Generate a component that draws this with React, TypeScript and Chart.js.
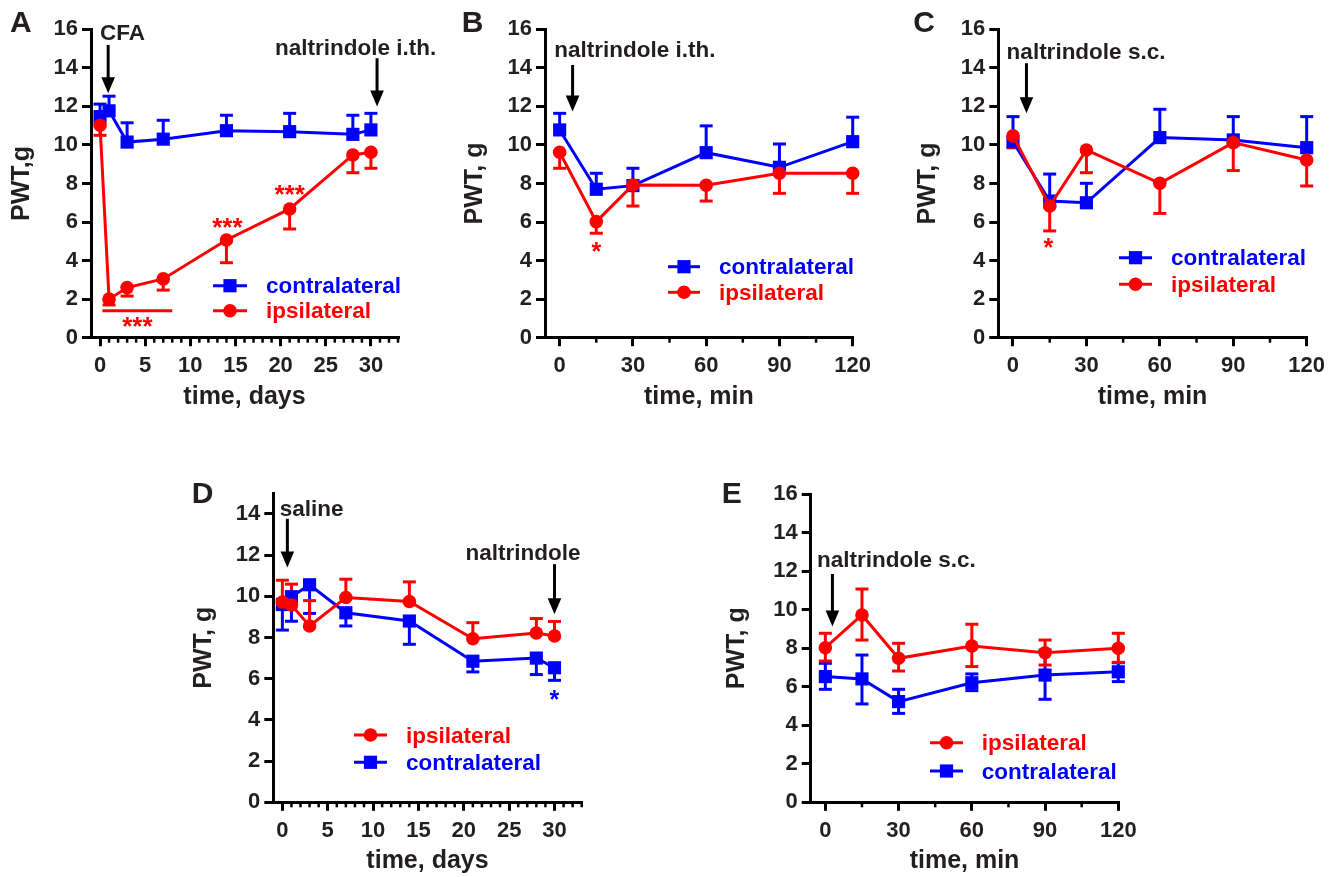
import React, { useEffect, useRef } from 'react';
import { Chart, registerables } from 'chart.js';

Chart.register(...registerables);

const FAMILY = '"Liberation Sans", Arial, Helvetica, sans-serif';
const TEXT = '#231f20';
const BLUE = '#0000ff';
const RED = '#ff0000';
const W = 1339;
const H = 877;

// ---------- data ----------
const DAYS = [0, 1, 3, 7, 14, 21, 28, 30];
const MINS = [0, 15, 30, 60, 90, 120];

const DAY_TICKS = [0, 5, 10, 15, 20, 25, 30];
const DAY_MINOR = [1, 2, 3, 4, 6, 7, 8, 9, 11, 12, 13, 14, 16, 17, 18, 19, 21, 22, 23, 24, 26, 27, 28, 29, 31, 32, 33];
const MIN_TICKS = [0, 30, 60, 90, 120];
const MIN_MINOR = [15, 45, 75, 105];
const Y16_TICKS = [0, 2, 4, 6, 8, 10, 12, 14, 16];
const Y14_TICKS = [0, 2, 4, 6, 8, 10, 12, 14];

// Panel A
const A_CONTRA = [11.47, 11.77, 10.15, 10.3, 10.74, 10.69, 10.55, 10.78];
const A_CONTRA_UP = [12.12, 12.53, 11.15, 11.28, 11.54, 11.64, 11.54, 11.64];
const A_IPSI = [11.02, 2.0, 2.6, 3.05, 5.07, 6.68, 9.48, 9.62];
const A_IPSI_LO = [10.5, 1.7, 2.16, 2.47, 3.89, 5.64, 8.56, 8.79];

// Panel B
const B_CONTRA = [10.78, 7.7, 7.89, 9.6, 8.84, 10.17];
const B_CONTRA_UP = [11.64, 8.53, 8.79, 10.99, 10.05, 11.44];
const B_IPSI = [9.62, 6.02, 7.92, 7.91, 8.53, 8.53];
const B_IPSI_LO = [8.79, 5.42, 6.83, 7.09, 7.49, 7.49];

// Panel C
const C_CONTRA = [10.17, 7.09, 7.0, 10.38, 10.26, 9.86];
const C_CONTRA_UP = [11.47, 8.49, 8.01, 11.85, 11.47, 11.47];
const C_IPSI = [10.47, 6.83, 9.74, 8.01, 10.12, 9.22];
const C_IPSI_LO = [9.85, 5.54, 8.56, 6.45, 8.67, 7.87];

// Panel D
const D_IPSI = [9.72, 9.58, 8.56, 9.94, 9.75, 7.94, 8.22, 8.07];
const D_IPSI_UP = [10.78, 10.59, 9.79, 10.83, 10.7, 8.72, 8.92, 8.78];
const D_CONTRA = [9.6, 9.98, 10.56, 9.2, 8.8, 6.85, 7.0, 6.53];
const D_CONTRA_LO = [8.36, 8.79, 9.17, 8.56, 7.67, 6.33, 6.2, 5.92];

// Panel E
const E_IPSI = [8.03, 9.73, 7.48, 8.12, 7.77, 8.0];
const E_IPSI_UP = [8.78, 11.08, 8.26, 9.25, 8.43, 8.78];
const E_IPSI_LO = [7.34, 8.43, 6.82, 7.05, 7.13, 7.27];
const E_CONTRA = [6.53, 6.41, 5.23, 6.21, 6.61, 6.78];
const E_CONTRA_UP = [7.22, 7.65, 5.87, 6.67, 7.91, 7.25];
const E_CONTRA_LO = [5.87, 5.11, 4.62, 5.8, 5.35, 6.27];

// ---------- panel descriptions ----------
type Series = {
  label: string;
  color: string;
  style: 'rect' | 'circle';
  x: number[];
  y: number[];
  upper?: number[];
  lower?: number[];
};
type Note = { text: string; x: number; y: number; color: string; size: number; mode: 'baseline' | 'center'; align: CanvasTextAlign };
type Arrow = { x: number; top: number; tip: number };
type Panel = {
  letter: string;
  letterPos: [number, number];
  area: { left: number; right: number; top: number; bottom: number };
  xMin: number; xMax: number; xTicks: number[]; xMinor: number[];
  yMin: number; yMax: number; yTicks: number[];
  xTitle: string; yTitle: string; yTitleOffset: number;
  series: Series[];
  legend: { x1: number; x2: number; textX: number; items: { idx: number; y: number }[] };
  arrows: Arrow[];
  notes: Note[];
  hlines: { x1: number; x2: number; y: number; color: string }[];
};

const contra = (x: number[], y: number[], upper?: number[], lower?: number[]): Series => ({ label: 'contralateral', color: BLUE, style: 'rect', x, y, upper, lower });
const ipsi = (x: number[], y: number[], upper?: number[], lower?: number[]): Series => ({ label: 'ipsilateral', color: RED, style: 'circle', x, y, upper, lower });

const PANELS: Panel[] = [
  {
    letter: 'A', letterPos: [10, 31.7],
    area: { left: 91, right: 398, top: 29.3, bottom: 337.7 },
    xMin: -1, xMax: 33, xTicks: DAY_TICKS, xMinor: DAY_MINOR,
    yMin: 0, yMax: 16, yTicks: Y16_TICKS,
    xTitle: 'time, days', yTitle: 'PWT,g', yTitleOffset: 61.7,
    series: [ipsi(DAYS, A_IPSI, undefined, A_IPSI_LO), contra(DAYS, A_CONTRA, A_CONTRA_UP)],
    legend: { x1: 213, x2: 247, textX: 266, items: [{ idx: 1, y: 285.7 }, { idx: 0, y: 310.7 }] },
    arrows: [{ x: 0.9, top: 15.19, tip: 12.68 }, { x: 30.68, top: 14.5, tip: 11.99 }],
    notes: [
      { text: 'CFA', x: 0, y: 15.45, color: TEXT, size: 22.5, mode: 'baseline', align: 'left' },
      { text: 'naltrindole i.th.', x: 19.37, y: 14.67, color: TEXT, size: 22.5, mode: 'baseline', align: 'left' },
      { text: '***', x: 14.1, y: 5.93, color: RED, size: 26, mode: 'center', align: 'center' },
      { text: '***', x: 21, y: 7.66, color: RED, size: 26, mode: 'center', align: 'center' },
      { text: '***', x: 4.14, y: 0.83, color: RED, size: 26, mode: 'center', align: 'center' },
    ],
    hlines: [{ x1: 0.26, x2: 8.0, y: 1.4, color: RED }],
  },
  {
    letter: 'B', letterPos: [461.7, 31.7],
    area: { left: 545, right: 852.7, top: 29.3, bottom: 337.7 },
    xMin: -6, xMax: 120, xTicks: MIN_TICKS, xMinor: MIN_MINOR,
    yMin: 0, yMax: 16, yTicks: Y16_TICKS,
    xTitle: 'time, min', yTitle: 'PWT, g', yTitleOffset: 63.3,
    series: [ipsi(MINS, B_IPSI, undefined, B_IPSI_LO), contra(MINS, B_CONTRA, B_CONTRA_UP)],
    legend: { x1: 668, x2: 700, textX: 719, items: [{ idx: 1, y: 266.7 }, { idx: 0, y: 292.3 }] },
    arrows: [{ x: 5.3, top: 14.15, tip: 11.73 }],
    notes: [
      { text: 'naltrindole i.th.', x: -2.2, y: 14.55, color: TEXT, size: 22.5, mode: 'baseline', align: 'left' },
      { text: '*', x: 15, y: 4.72, color: RED, size: 25, mode: 'center', align: 'center' },
    ],
    hlines: [],
  },
  {
    letter: 'C', letterPos: [913.3, 31.7],
    area: { left: 998.3, right: 1306.7, top: 29.3, bottom: 337.7 },
    xMin: -6, xMax: 120, xTicks: MIN_TICKS, xMinor: MIN_MINOR,
    yMin: 0, yMax: 16, yTicks: Y16_TICKS,
    xTitle: 'time, min', yTitle: 'PWT, g', yTitleOffset: 63.3,
    series: [ipsi(MINS, C_IPSI, undefined, C_IPSI_LO), contra(MINS, C_CONTRA, C_CONTRA_UP)],
    legend: { x1: 1119, x2: 1152, textX: 1171, items: [{ idx: 1, y: 257.7 }, { idx: 0, y: 284.3 }] },
    arrows: [{ x: 5.5, top: 14.24, tip: 11.64 }],
    notes: [
      { text: 'naltrindole s.c.', x: -2.6, y: 14.46, color: TEXT, size: 22.5, mode: 'baseline', align: 'left' },
      { text: '*', x: 14.5, y: 4.9, color: RED, size: 25, mode: 'center', align: 'center' },
    ],
    hlines: [],
  },
  {
    letter: 'D', letterPos: [191.7, 503.3],
    area: { left: 273.3, right: 581.7, top: 493.3, bottom: 802.3 },
    xMin: -1, xMax: 33, xTicks: DAY_TICKS, xMinor: DAY_MINOR,
    yMin: 0, yMax: 15, yTicks: Y14_TICKS,
    xTitle: 'time, days', yTitle: 'PWT, g', yTitleOffset: 62.6,
    series: [ipsi(DAYS, D_IPSI, D_IPSI_UP), contra(DAYS, D_CONTRA, undefined, D_CONTRA_LO)],
    legend: { x1: 354, x2: 387, textX: 406, items: [{ idx: 0, y: 735 }, { idx: 1, y: 762.3 }] },
    arrows: [{ x: 0.55, top: 13.76, tip: 11.4 }, { x: 30, top: 11.56, tip: 9.13 }],
    notes: [
      { text: 'saline', x: -0.3, y: 13.92, color: TEXT, size: 22.5, mode: 'baseline', align: 'left' },
      { text: 'naltrindole', x: 20.2, y: 11.77, color: TEXT, size: 22.5, mode: 'baseline', align: 'left' },
      { text: '*', x: 30, y: 5.23, color: BLUE, size: 25, mode: 'center', align: 'center' },
    ],
    hlines: [],
  },
  {
    letter: 'E', letterPos: [721.7, 503.3],
    area: { left: 810.7, right: 1118.3, top: 494.3, bottom: 802.3 },
    xMin: -6, xMax: 120, xTicks: MIN_TICKS, xMinor: MIN_MINOR,
    yMin: 0, yMax: 16, yTicks: Y16_TICKS,
    xTitle: 'time, min', yTitle: 'PWT, g', yTitleOffset: 67,
    series: [ipsi(MINS, E_IPSI, E_IPSI_UP, E_IPSI_LO), contra(MINS, E_CONTRA, E_CONTRA_UP, E_CONTRA_LO)],
    legend: { x1: 930, x2: 963, textX: 981.7, items: [{ idx: 0, y: 742.7 }, { idx: 1, y: 771 }] },
    arrows: [{ x: 2.9, top: 11.86, tip: 9.13 }],
    notes: [
      { text: 'naltrindole s.c.', x: -3.4, y: 12.24, color: TEXT, size: 22.5, mode: 'baseline', align: 'left' },
    ],
    hlines: [],
  },
];

const YW = 80; // fixed y-axis box width
const XH = 60; // fixed x-axis box height

function setFont(ctx: CanvasRenderingContext2D, size: number) {
  ctx.font = `bold ${size}px ${FAMILY}`;
}

function line(ctx: CanvasRenderingContext2D, x1: number, y1: number, x2: number, y2: number) {
  ctx.beginPath();
  ctx.moveTo(x1, y1);
  ctx.lineTo(x2, y2);
  ctx.stroke();
}

function drawMarker(ctx: CanvasRenderingContext2D, style: string, x: number, y: number, color: string) {
  ctx.fillStyle = color;
  ctx.beginPath();
  if (style === 'rect') {
    ctx.rect(x - 6.6, y - 6.6, 13.2, 13.2);
  } else {
    ctx.arc(x, y, 6.8, 0, Math.PI * 2);
  }
  ctx.fill();
}

function makePlugin(p: Panel) {
  return {
    id: 'decor' + p.letter,
    beforeDatasetsDraw(chart: any) {
      const ctx: CanvasRenderingContext2D = chart.ctx;
      const xs = chart.scales.x;
      const ys = chart.scales.y;
      ctx.save();
      ctx.lineWidth = 3;
      ctx.lineCap = 'butt';
      for (let s = p.series.length - 1; s >= 0; s--) {
        const ser = p.series[s];
        ctx.strokeStyle = ser.color;
        ser.x.forEach((xv, i) => {
          const px = xs.getPixelForValue(xv);
          const py = ys.getPixelForValue(ser.y[i]);
          [ser.upper ? ser.upper[i] : null, ser.lower ? ser.lower[i] : null].forEach((v) => {
            if (v == null) return;
            const pv = ys.getPixelForValue(v);
            line(ctx, px, py, px, pv);
            line(ctx, px - 6.5, pv, px + 6.5, pv);
          });
        });
      }
      ctx.restore();
    },
    afterDraw(chart: any) {
      const ctx: CanvasRenderingContext2D = chart.ctx;
      const xs = chart.scales.x;
      const ys = chart.scales.y;
      const ca = chart.chartArea;
      ctx.save();

      // minor ticks on x axis
      ctx.strokeStyle = '#000';
      ctx.lineWidth = 2.5;
      p.xMinor.forEach((v) => {
        const px = xs.getPixelForValue(v);
        line(ctx, px, ca.bottom, px, ca.bottom + 5);
      });

      // axis titles
      setFont(ctx, 25);
      ctx.fillStyle = TEXT;
      ctx.textAlign = 'center';
      ctx.textBaseline = 'alphabetic';
      ctx.fillText(p.xTitle, (ca.left + ca.right) / 2, ca.bottom + 66);
      ctx.save();
      ctx.translate(ca.left - p.yTitleOffset, (ca.top + ca.bottom) / 2);
      ctx.rotate(-Math.PI / 2);
      ctx.fillText(p.yTitle, 0, 0);
      ctx.restore();

      // panel letter
      setFont(ctx, 30);
      ctx.textAlign = 'left';
      ctx.fillText(p.letter, p.letterPos[0], p.letterPos[1]);

      // horizontal significance lines
      p.hlines.forEach((h) => {
        ctx.strokeStyle = h.color;
        ctx.lineWidth = 3;
        const y = ys.getPixelForValue(h.y);
        line(ctx, xs.getPixelForValue(h.x1), y, xs.getPixelForValue(h.x2), y);
      });

      // arrows
      p.arrows.forEach((a) => {
        const x = xs.getPixelForValue(a.x);
        const yTop = ys.getPixelForValue(a.top);
        const yTip = ys.getPixelForValue(a.tip);
        const headLen = 16;
        ctx.strokeStyle = '#000';
        ctx.fillStyle = '#000';
        ctx.lineWidth = 3;
        line(ctx, x, yTop, x, yTip - headLen + 2);
        ctx.beginPath();
        ctx.moveTo(x - 6.8, yTip - headLen);
        ctx.lineTo(x + 6.8, yTip - headLen);
        ctx.lineTo(x, yTip);
        ctx.closePath();
        ctx.fill();
      });

      // notes
      p.notes.forEach((n) => {
        setFont(ctx, n.size);
        ctx.fillStyle = n.color;
        ctx.textAlign = n.align;
        ctx.textBaseline = 'alphabetic';
        const x = xs.getPixelForValue(n.x);
        let y = ys.getPixelForValue(n.y);
        if (n.mode === 'center') {
          const m = ctx.measureText(n.text);
          y = y + (m.actualBoundingBoxAscent - m.actualBoundingBoxDescent) / 2;
        }
        ctx.fillText(n.text, x, y);
      });

      // legend
      p.legend.items.forEach((it) => {
        const ser = p.series[it.idx];
        ctx.strokeStyle = ser.color;
        ctx.lineWidth = 3;
        line(ctx, p.legend.x1, it.y, p.legend.x2, it.y);
        drawMarker(ctx, ser.style, (p.legend.x1 + p.legend.x2) / 2, it.y, ser.color);
        setFont(ctx, 22.5);
        ctx.fillStyle = ser.color;
        ctx.textAlign = 'left';
        ctx.textBaseline = 'alphabetic';
        ctx.fillText(ser.label, p.legend.textX, it.y + 7.7);
      });

      ctx.restore();
    },
  };
}

function buildConfig(p: Panel): any {
  const tickFont = { family: FAMILY, size: 22, weight: 'bold' as const };
  return {
    type: 'line',
    data: {
      datasets: p.series.map((s) => ({
        label: s.label,
        data: s.x.map((x, i) => ({ x, y: s.y[i] })),
        borderColor: s.color,
        backgroundColor: s.color,
        borderWidth: 3,
        pointStyle: s.style,
        pointRadius: s.style === 'rect' ? 9.3 : 6.8,
        pointBorderWidth: 0,
        pointBackgroundColor: s.color,
        pointHoverRadius: 0,
        tension: 0,
        fill: false,
        clip: false,
      })),
    },
    options: {
      responsive: false,
      animation: false,
      events: [],
      layout: {
        padding: {
          left: p.area.left - YW,
          right: W - p.area.right,
          top: p.area.top,
          bottom: H - p.area.bottom - XH,
        },
      },
      plugins: { legend: { display: false }, tooltip: { enabled: false }, title: { display: false } },
      scales: {
        x: {
          type: 'linear',
          min: p.xMin,
          max: p.xMax,
          afterBuildTicks: (s: any) => { s.ticks = p.xTicks.map((v) => ({ value: v })); },
          afterFit: (s: any) => { s.height = XH; },
          grid: { display: true, drawOnChartArea: false, drawTicks: true, tickLength: 8.5, lineWidth: 3, tickWidth: 3, tickColor: '#000', color: '#000' },
          border: { display: true, color: '#000', width: 3 },
          ticks: { font: tickFont, color: TEXT, padding: 6.5, maxRotation: 0, autoSkip: false, callback: (v: any) => String(v) },
        },
        y: {
          type: 'linear',
          min: p.yMin,
          max: p.yMax,
          afterBuildTicks: (s: any) => { s.ticks = p.yTicks.map((v) => ({ value: v })); },
          afterFit: (s: any) => { s.width = YW; },
          grid: { display: true, drawOnChartArea: false, drawTicks: true, tickLength: 9, lineWidth: 3, tickWidth: 3, tickColor: '#000', color: '#000' },
          border: { display: true, color: '#000', width: 3 },
          ticks: { font: tickFont, color: TEXT, padding: 4, autoSkip: false, callback: (v: any) => String(v) },
        },
      },
    },
    plugins: [makePlugin(p)],
  };
}

function PanelChart({ panel }: { panel: Panel }) {
  const ref = useRef<HTMLCanvasElement | null>(null);
  useEffect(() => {
    if (!ref.current) return;
    const chart = new Chart(ref.current, buildConfig(panel));
    return () => chart.destroy();
  }, [panel]);
  return (
    <canvas
      ref={ref}
      width={W}
      height={H}
      style={{ position: 'absolute', left: 0, top: 0, width: W, height: H }}
    />
  );
}

export default function App() {
  return (
    <div style={{ position: 'absolute', left: 0, top: 0, width: W, height: H, background: '#fff', overflow: 'hidden' }}>
      {PANELS.map((p) => (
        <PanelChart key={p.letter} panel={p} />
      ))}
    </div>
  );
}
